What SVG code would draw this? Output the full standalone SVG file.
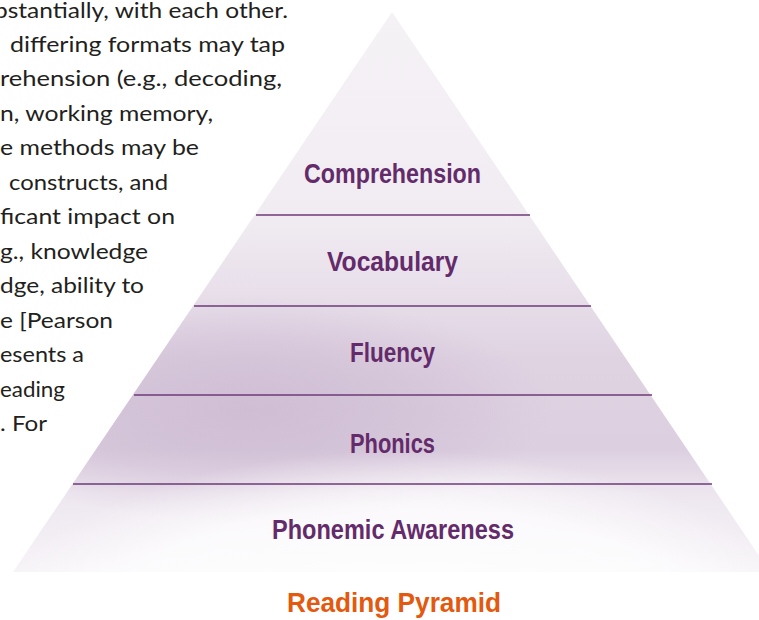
<svg xmlns="http://www.w3.org/2000/svg" width="759" height="620" viewBox="0 0 759 620">
  <style>
    .body { font-family: "Lato", "Open Sans", "Liberation Sans", sans-serif; font-size: 21px; fill: #231f20; }
    .tier { font-family: "Liberation Sans", Arial, sans-serif; font-weight: bold; font-size: 27.5px; fill: #642b6b; text-anchor: middle; }
    .title { font-family: "Liberation Sans", Arial, sans-serif; font-weight: bold; font-size: 28px; fill: #e3590f; text-anchor: middle; }
    .divider { stroke: #6e3a78; stroke-width: 1.6; fill: none; }
  </style>
  <defs>
    <clipPath id="pyr">
      <polygon points="392,12 13,572 770,572"/>
    </clipPath>
    <linearGradient id="base" x1="0" y1="12" x2="0" y2="572" gradientUnits="userSpaceOnUse">
      <stop offset="0" stop-color="#f5f2f6"/>
      <stop offset="0.36" stop-color="#f1ecf2"/>
      <stop offset="0.5" stop-color="#e8dfea"/>
      <stop offset="0.62" stop-color="#dfd3e2"/>
      <stop offset="0.78" stop-color="#dcd0e0"/>
      <stop offset="0.86" stop-color="#ede6ef"/>
      <stop offset="1" stop-color="#f7f4f8"/>
    </linearGradient>
    <!-- deeper lilac shade pooling on the left of the middle tiers -->
    <radialGradient id="shade" cx="250" cy="410" r="300" gradientUnits="userSpaceOnUse" gradientTransform="translate(250 410) scale(1 0.38) translate(-250 -410)">
      <stop offset="0" stop-color="#c4adca" stop-opacity="0.55"/>
      <stop offset="0.6" stop-color="#c4adca" stop-opacity="0.3"/>
      <stop offset="1" stop-color="#c4adca" stop-opacity="0"/>
    </radialGradient>
    <radialGradient id="glow" cx="400" cy="640" r="420" gradientUnits="userSpaceOnUse" gradientTransform="translate(400 640) scale(1 0.45) translate(-400 -640)">
      <stop offset="0" stop-color="#ffffff" stop-opacity="0.95"/>
      <stop offset="0.72" stop-color="#ffffff" stop-opacity="0.7"/>
      <stop offset="1" stop-color="#ffffff" stop-opacity="0"/>
    </radialGradient>
  </defs>

  <!-- Body copy beside the pyramid -->
  <g id="paragraph" class="body">
    <text x="-6" y="18" textLength="294" lengthAdjust="spacingAndGlyphs">bstantially, with each other.</text>
    <text x="10" y="52" textLength="275" lengthAdjust="spacingAndGlyphs">differing formats may tap</text>
    <text x="0" y="86" textLength="282" lengthAdjust="spacingAndGlyphs">rehension (e.g., decoding,</text>
    <text x="0" y="121" textLength="213" lengthAdjust="spacingAndGlyphs">n, working memory,</text>
    <text x="0" y="155" textLength="199" lengthAdjust="spacingAndGlyphs">e methods may be</text>
    <text x="9" y="190" textLength="159" lengthAdjust="spacingAndGlyphs">constructs, and</text>
    <text x="0" y="224" textLength="175" lengthAdjust="spacingAndGlyphs">ficant impact on</text>
    <text x="0" y="259" textLength="148" lengthAdjust="spacingAndGlyphs">g., knowledge</text>
    <text x="0" y="293" textLength="144" lengthAdjust="spacingAndGlyphs">dge, ability to</text>
    <text x="0" y="328" textLength="113" lengthAdjust="spacingAndGlyphs">e [Pearson</text>
    <text x="0" y="362" textLength="84" lengthAdjust="spacingAndGlyphs">esents a</text>
    <text x="0" y="397" textLength="65" lengthAdjust="spacingAndGlyphs">eading</text>
    <text x="0" y="431" textLength="47" lengthAdjust="spacingAndGlyphs">. For</text>
  </g>

  <!-- Pyramid body with soft shading -->
  <g id="pyramid" clip-path="url(#pyr)">
    <rect x="0" y="0" width="780" height="580" fill="url(#base)"/>
    <ellipse cx="250" cy="410" rx="300" ry="114" fill="url(#shade)"/>
    <ellipse cx="400" cy="640" rx="420" ry="189" fill="url(#glow)"/>
  </g>

  <!-- Tier dividers -->
  <g id="dividers">
    <line class="divider" x1="256" y1="215" x2="530" y2="215"/>
    <line class="divider" x1="194" y1="306" x2="591" y2="306"/>
    <line class="divider" x1="134" y1="395" x2="652" y2="395"/>
    <line class="divider" x1="73" y1="484" x2="712" y2="484"/>
  </g>

  <g id="tier-comprehension"><text class="tier" x="392.5" y="183" textLength="177" lengthAdjust="spacingAndGlyphs">Comprehension</text></g>
  <g id="tier-vocabulary"><text class="tier" x="392.5" y="271" textLength="131" lengthAdjust="spacingAndGlyphs">Vocabulary</text></g>
  <g id="tier-fluency"><text class="tier" x="392.5" y="362" textLength="85" lengthAdjust="spacingAndGlyphs">Fluency</text></g>
  <g id="tier-phonics"><text class="tier" x="392.5" y="453" textLength="85" lengthAdjust="spacingAndGlyphs">Phonics</text></g>
  <g id="tier-phonemic"><text class="tier" x="393" y="539" textLength="242" lengthAdjust="spacingAndGlyphs">Phonemic Awareness</text></g>

  <g id="caption"><text class="title" x="394" y="612" textLength="214" lengthAdjust="spacingAndGlyphs">Reading Pyramid</text></g>
</svg>
